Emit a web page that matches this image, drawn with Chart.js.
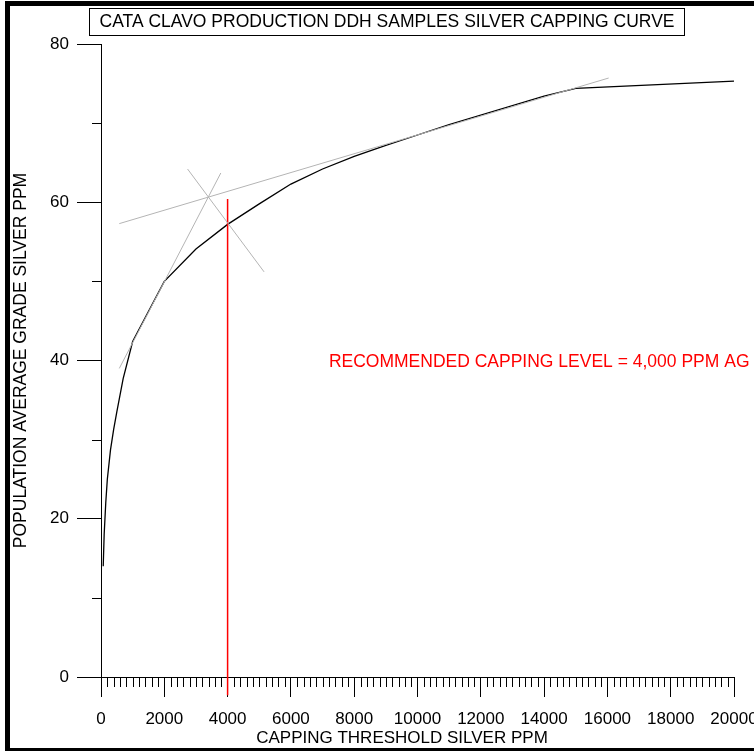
<!DOCTYPE html>
<html>
<head>
<meta charset="utf-8">
<script src="https://cdn.jsdelivr.net/npm/chart.js@4.4.1/dist/chart.umd.min.js"></script>
<style>
  html, body { margin: 0; padding: 0; background: #fff; }
  #wrap { width: 754px; height: 751px; }
</style>
</head>
<body>
<div id="wrap"><canvas id="grafico" width="754" height="751"></canvas></div>
<script>
// capping threshold (ppm) vs population average grade (ppm)
const capping = [70, 100, 150, 200, 300, 400, 500, 700, 1000, 2000, 3000, 4000, 5000, 6000, 7000, 8000, 9000, 10000, 11000, 12000, 13000, 14000, 15000, 20000];
const avgGrade = [14, 18, 22, 25, 28.7, 31.3, 33.5, 37.7, 42.4, 50, 54.1, 57.2, 59.8, 62.3, 64.2, 65.8, 67.2, 68.5, 69.8, 71, 72.2, 73.4, 74.4, 75.3];

// construction lines (tangents + bisector)
const tangentLowX = [578, 3786];
const tangentLowY = [39.0, 63.7];
const tangentHighX = [578, 16040];
const tangentHighY = [57.3, 75.7];
const bisectorX = [2735, 5153];
const bisectorY = [64.2, 51.2];

// recommended capping level
const capLevelX = [4000, 4000];
const capLevelY = [-2.3, 60.4];

const yTicks = [0, 20, 40, 60, 80];
const xTicks = [0, 2000, 4000, 6000, 8000, 10000, 12000, 14000, 16000, 18000, 20000];

const pts = (xs, ys) => xs.map((x, i) => ({ x: x, y: ys[i] }));

Chart.defaults.font.family = '"Liberation Sans", Arial, sans-serif';
Chart.defaults.color = '#000';

const frameAndNotes = {
    id: 'frameAndNotes',
    afterDraw(chart) {
        const c = chart.ctx;
        const xs = chart.scales.x;
        const ys = chart.scales.y;
        c.save();

        // outer frame
        c.fillStyle = '#000';
        c.fillRect(5, 1, 5, 750);
        c.fillRect(5, 1, 749, 5);
        c.fillRect(5, 748, 749, 3);

        // title box
        c.strokeStyle = '#000';
        c.lineWidth = 1;
        c.strokeRect(89.5, 8.5, 595, 27);
        c.font = '17.5px "Liberation Sans", Arial, sans-serif';
        c.textAlign = 'center';
        c.textBaseline = 'middle';
        c.fillText('CATA CLAVO PRODUCTION DDH SAMPLES SILVER CAPPING CURVE', 387, 22.5);

        // minor ticks
        c.beginPath();
        for (let v = 200; v < 20000; v += 200) {
            if (v % 2000 === 0) continue;
            const px = Math.round(xs.getPixelForValue(v)) + 0.5;
            c.moveTo(px, ys.bottom);
            c.lineTo(px, ys.bottom + 10);
        }
        for (let v = 10; v < 80; v += 20) {
            const py = Math.round(ys.getPixelForValue(v)) + 0.5;
            c.moveTo(xs.left - 9, py);
            c.lineTo(xs.left, py);
        }
        c.stroke();

        // x axis title, drawn here so it can sit a little left of centre like the original
        c.fillStyle = '#000';
        c.font = '17px "Liberation Sans", Arial, sans-serif';
        c.textAlign = 'center';
        c.fillText('CAPPING THRESHOLD SILVER PPM', 402, 738);

        // annotation
        c.fillStyle = '#ff0000';
        c.font = '17.5px "Liberation Sans", Arial, sans-serif';
        c.textAlign = 'left';
        c.fillText('RECOMMENDED CAPPING LEVEL = 4,000 PPM AG', xs.getPixelForValue(7200), ys.getPixelForValue(39.8));
        c.restore();
    }
};

const ctx = document.getElementById('grafico').getContext('2d');

new Chart(ctx, {
    type: 'scatter',
    data: {
        datasets: [
            {
                data: pts(tangentLowX, tangentLowY),
                showLine: true, borderColor: '#b4b4b4', borderWidth: 1, pointRadius: 0
            },
            {
                data: pts(tangentHighX, tangentHighY),
                showLine: true, borderColor: '#b4b4b4', borderWidth: 1, pointRadius: 0
            },
            {
                data: pts(bisectorX, bisectorY),
                showLine: true, borderColor: '#b4b4b4', borderWidth: 1, pointRadius: 0
            },
            {
                data: pts(capLevelX, capLevelY),
                showLine: true, borderColor: '#ff0000', borderWidth: 1.5, pointRadius: 0, clip: false
            },
            {
                data: pts(capping, avgGrade),
                showLine: true, borderColor: '#000', borderWidth: 1.3, pointRadius: 0, tension: 0
            }
        ]
    },
    options: {
        responsive: false,
        devicePixelRatio: 1,
        animation: false,
        layout: { padding: { top: 44, right: 20, bottom: 0, left: 0 } },
        plugins: { legend: { display: false }, tooltip: { enabled: false }, title: { display: false } },
        scales: {
            x: {
                type: 'linear', min: 0, max: 20000,
                afterFit(s) { s.height = 74; s.paddingLeft = 0; s.paddingRight = 0; },
                afterBuildTicks(s) { s.ticks = xTicks.map(v => ({ value: v })); },
                ticks: { font: { size: 17 }, padding: 12, maxRotation: 0, autoSkip: false, callback: v => String(v) },
                grid: { drawOnChartArea: false, tickLength: 20, color: '#000', tickColor: '#000' },
                border: { display: true, color: '#000' },
                title: { display: false }
            },
            y: {
                type: 'linear', min: 0, max: 80,
                afterFit(s) { s.width = 101; s.paddingTop = 0; s.paddingBottom = 0; },
                afterBuildTicks(s) { s.ticks = yTicks.map(v => ({ value: v })); },
                ticks: { font: { size: 17 }, padding: 8, callback: v => String(v) },
                grid: { drawOnChartArea: false, tickLength: 24, color: '#000', tickColor: '#000' },
                border: { display: true, color: '#000' },
                title: { display: true, text: 'POPULATION AVERAGE GRADE SILVER PPM', font: { size: 17.5 }, padding: { top: 11, bottom: 0 } }
            }
        }
    },
    plugins: [frameAndNotes]
});
</script>
</body>
</html>
